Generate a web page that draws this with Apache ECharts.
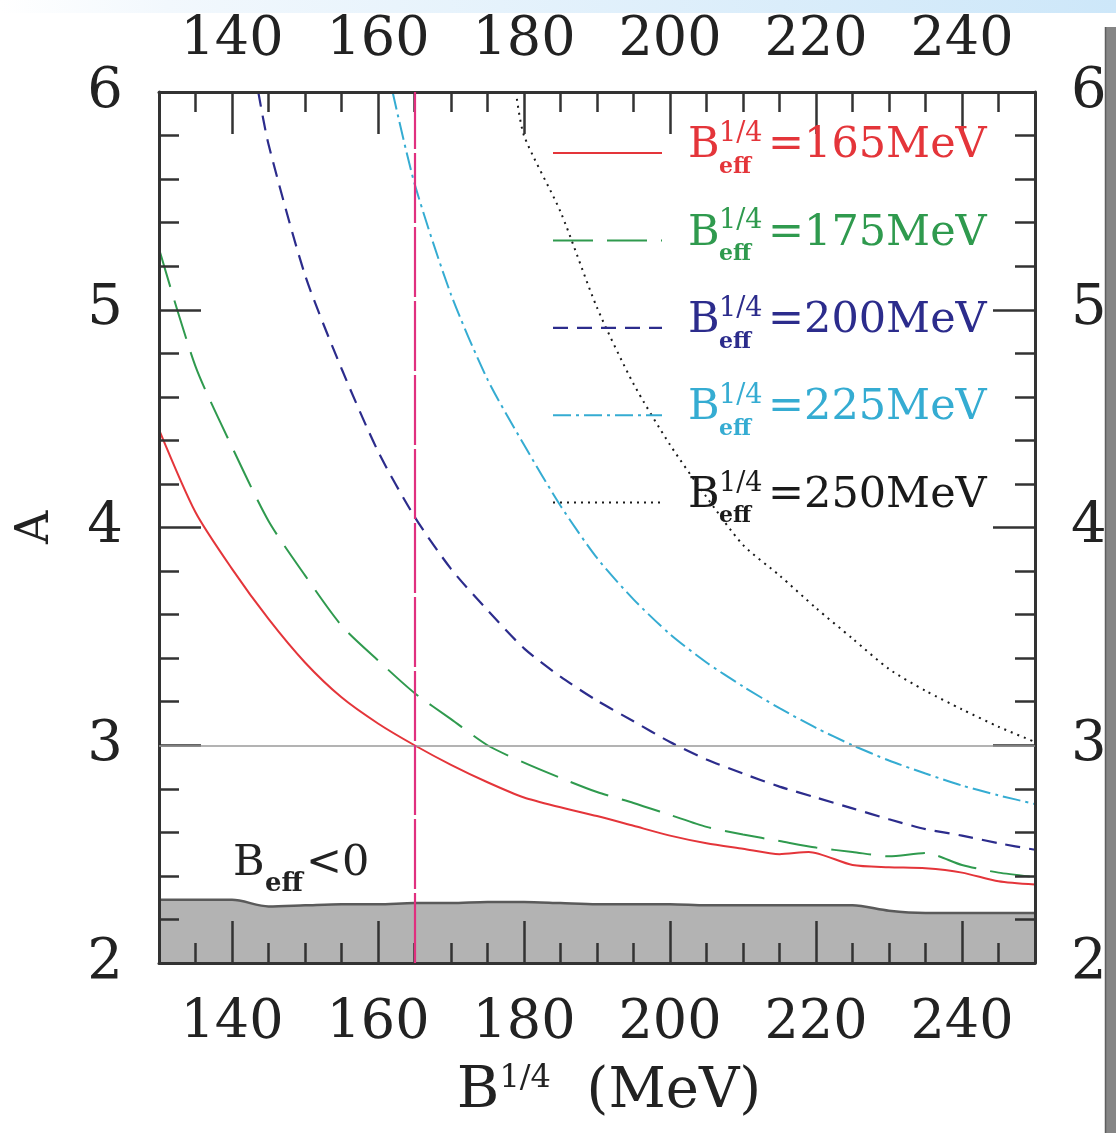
<!DOCTYPE html>
<html><head><meta charset="utf-8">
<script src="https://cdn.jsdelivr.net/npm/echarts@6/dist/echarts.min.js"></script>
<style>html,body{margin:0;padding:0;background:#fff}#c{width:1116px;height:1133px}</style>
</head><body><div id="c"></div>
<script>
// ---------- data ----------
const xMajorTicks = [140, 160, 180, 200, 220, 240];
const yMajorTicks = [2, 3, 4, 5, 6];
const legendValues = [165, 175, 200, 225, 250];

const redX = [130,135,140,145,150,155,160,165,170,175,180,185,190,195,200,205,210,215,219,225,230,235,240,245,250];
const redY = [4.45,4.07,3.81,3.58,3.38,3.22,3.10,3.00,2.91,2.83,2.76,2.715,2.675,2.63,2.585,2.55,2.525,2.50,2.51,2.45,2.44,2.435,2.415,2.375,2.36];

const greenX = [130,135,140,145,150,155,160,165,170,175,180,185,190,195,200,205,210,215,220,225,230,235,240,245,250];
const greenY = [5.28,4.74,4.37,4.03,3.78,3.55,3.39,3.24,3.12,3.00,2.92,2.85,2.785,2.735,2.68,2.625,2.59,2.56,2.53,2.51,2.49,2.505,2.45,2.415,2.395];

const blueX = [143.6,145,150,155,160,165,170,175,180,185,190,195,200,205,210,215,220,225,230,235,240,245,250];
const blueY = [6.0,5.76,5.16,4.73,4.35,4.05,3.81,3.62,3.445,3.315,3.205,3.11,3.015,2.935,2.87,2.81,2.76,2.71,2.66,2.615,2.585,2.55,2.52];

const cyanX = [162.0,165,170,175,180,185,190,195,200,205,210,215,220,225,230,235,240,245,250];
const cyanY = [6.0,5.58,5.07,4.68,4.38,4.10,3.86,3.67,3.51,3.38,3.27,3.17,3.08,3.00,2.93,2.87,2.815,2.77,2.73];

const blackX = [178.9,180,185,190,195,200,205,210,215,220,225,230,235,240,245,250];
const blackY = [6.0,5.80,5.45,5.01,4.66,4.38,4.14,3.92,3.78,3.63,3.49,3.35,3.25,3.165,3.085,3.015];

const grayX = [130,135,140,145,150,155,160,165,170,175,180,185,190,195,200,205,210,215,220,225,230,235,240,245,250];
const grayY = [2.29,2.29,2.29,2.26,2.265,2.27,2.27,2.275,2.275,2.28,2.28,2.275,2.27,2.27,2.27,2.265,2.265,2.265,2.265,2.265,2.24,2.23,2.23,2.23,2.23];

const refLineX = [165];
const refLineY = [3];

// ---------- helpers ----------
const zip = (xs, ys) => xs.map((x, i) => [x, ys[i]]);
const FONT = '"DejaVu Serif", serif';
const INK = '#222';
const AX = '#333';

const colors = ['#e4353a', '#2f9a4e', '#2c2c8c', '#35acd2', '#1a1a1a'];
const dashes = ['solid', [40, 14], [15, 9], [18, 5, 3, 5], [2, 5]];
const widths = [2, 2, 2.2, 2, 2];

function xAx(pos) {
  return [
    {
      type: 'value', position: pos, min: 130, max: 250, interval: 5, z: 5,
      axisLine: { show: true, onZero: false, lineStyle: { color: AX, width: 3 } },
      axisTick: { show: true, inside: true, length: 20, lineStyle: { color: AX, width: 2.5 } },
      axisLabel: { show: true, customValues: xMajorTicks, margin: pos === 'bottom' ? 34 : 24,
        fontFamily: FONT, fontSize: 54, color: INK },
      splitLine: { show: false }
    },
    {
      type: 'value', position: pos, min: 130, max: 250, z: 5,
      axisLine: { show: false },
      axisTick: { show: true, inside: true, length: 42, customValues: xMajorTicks, lineStyle: { color: AX, width: 2.5 } },
      axisLabel: { show: false },
      splitLine: { show: false }
    }
  ];
}

function yAx(pos) {
  return {
    type: 'value', position: pos, min: 2, max: 6, interval: 1, z: 5,
    axisLine: { show: true, onZero: false, lineStyle: { color: AX, width: 3 } },
    axisTick: { show: true, inside: true, length: 42, lineStyle: { color: AX, width: 2.5 } },
    minorTick: { show: true, splitNumber: 5, length: 20, lineStyle: { color: AX, width: 2.5 } },
    axisLabel: { show: true, margin: 36, fontFamily: FONT, fontSize: 56, color: INK },
    splitLine: { show: false }, minorSplitLine: { show: false }
  };
}

const xAxes = [...xAx('bottom'), ...xAx('top')];
xAxes[0].name = '{b|B}{s|1/4}{m|  (MeV)}';
xAxes[0].nameLocation = 'middle';
xAxes[0].nameGap = 100;
xAxes[0].nameTextStyle = {
  color: INK, fontFamily: FONT, padding: [0, 0, 0, 24],
  rich: {
    b: { fontFamily: FONT, fontSize: 58, color: INK },
    s: { fontFamily: FONT, fontSize: 32, color: INK, verticalAlign: 'top' },
    m: { fontFamily: FONT, fontSize: 56, color: INK }
  }
};

const yLeft = yAx('left');
yLeft.name = 'A';
yLeft.nameLocation = 'middle';
yLeft.nameGap = 100;
yLeft.nameTextStyle = { fontFamily: FONT, fontSize: 46, color: INK };
const yRight = yAx('right');

const curveSets = [[redX, redY], [greenX, greenY], [blueX, blueY], [cyanX, cyanY], [blackX, blackY]];

const series = [
  {
    type: 'line', name: 'Beff<0', data: zip(grayX, grayY), symbol: 'none', smooth: 0.3, z: 1,
    lineStyle: { color: '#5a5a5a', width: 2.5 },
    areaStyle: { color: '#b3b3b3', origin: 'start', opacity: 1 }
  },
  {
    type: 'line', data: [], symbol: 'none', z: 6, silent: true,
    markLine: {
      silent: true, symbol: 'none', label: { show: false }, animation: false, z: 10,
      data: [
        { yAxis: refLineY[0], lineStyle: { color: '#9a9a9a', width: 1.5, type: 'solid' } },
        { xAxis: refLineX[0], lineStyle: { color: '#e0307f', width: 2.2, type: [70, 4] } }
      ]
    }
  }
];
curveSets.forEach((c, i) => {
  series.push({
    type: 'line', name: 'B=' + legendValues[i] + 'MeV', data: zip(c[0], c[1]),
    symbol: 'none', smooth: 0.25, z: 4,
    lineStyle: { color: colors[i], width: widths[i], type: dashes[i] }
  });
});

// ---------- legend (drawn) ----------
const graphics = [];
legendValues.forEach((v, i) => {
  const cy = 146 + 87.4 * i;
  const ly = 153 + 87.4 * i;
  const col = colors[i];
  graphics.push({
    type: 'line', shape: { x1: 553, y1: ly, x2: 662, y2: ly },
    style: { stroke: col, lineWidth: widths[i], lineDash: dashes[i] === 'solid' ? null : dashes[i] }, z: 50
  });
  graphics.push({ type: 'text', x: 688, y: cy, z: 50,
    style: { text: 'B', fontFamily: FONT, fontSize: 43, fill: col, verticalAlign: 'middle', align: 'left' } });
  graphics.push({ type: 'text', x: 719, y: cy - 12, z: 50,
    style: { text: '1/4', fontFamily: FONT, fontSize: 27, fill: col, verticalAlign: 'middle', align: 'left' } });
  graphics.push({ type: 'text', x: 719, y: cy + 21, z: 50,
    style: { text: 'eff', fontFamily: FONT, fontSize: 22, fontWeight: 'bold', fill: col, verticalAlign: 'middle', align: 'left' } });
  graphics.push({ type: 'text', x: 768, y: cy, z: 50,
    style: { text: '=' + v + 'MeV', fontFamily: FONT, fontSize: 43, fill: col, verticalAlign: 'middle', align: 'left' } });
});
// Beff<0 label
graphics.push({ type: 'text', x: 233, y: 864, z: 50,
  style: { text: 'B', fontFamily: FONT, fontSize: 43, fill: INK, verticalAlign: 'middle' } });
graphics.push({ type: 'text', x: 265, y: 884, z: 50,
  style: { text: 'eff', fontFamily: FONT, fontSize: 26, fontWeight: 'bold', fill: INK, verticalAlign: 'middle' } });
graphics.push({ type: 'text', x: 306, y: 864, z: 50,
  style: { text: '<0', fontFamily: FONT, fontSize: 43, fill: INK, verticalAlign: 'middle' } });
// page frame decorations
graphics.push({ type: 'rect', shape: { x: 0, y: 0, width: 1116, height: 13 }, z: 100, silent: true,
  style: { fill: new echarts.graphic.LinearGradient(0, 0, 1, 0, [
    { offset: 0, color: '#ffffff' }, { offset: 0.15, color: '#f2f8fd' }, { offset: 1, color: '#cde7f9' }]) } });
graphics.push({ type: 'rect', shape: { x: 1105, y: 27, width: 11, height: 1106 }, z: 100, silent: true,
  style: { fill: '#858585' } });
graphics.push({ type: 'line', shape: { x1: 1105.5, y1: 27, x2: 1105.5, y2: 1133 }, z: 101, silent: true,
  style: { stroke: '#5e5e5e', lineWidth: 1.5 } });

const chart = echarts.init(document.getElementById('c'), null, { renderer: 'canvas' });
chart.setOption({
  animation: false,
  backgroundColor: '#ffffff',
  grid: { left: 159, right: 81, top: 92, bottom: 170, containLabel: false },
  xAxis: xAxes,
  yAxis: [yLeft, yRight],
  series: series,
  graphic: graphics
});
</script>
</body></html>
